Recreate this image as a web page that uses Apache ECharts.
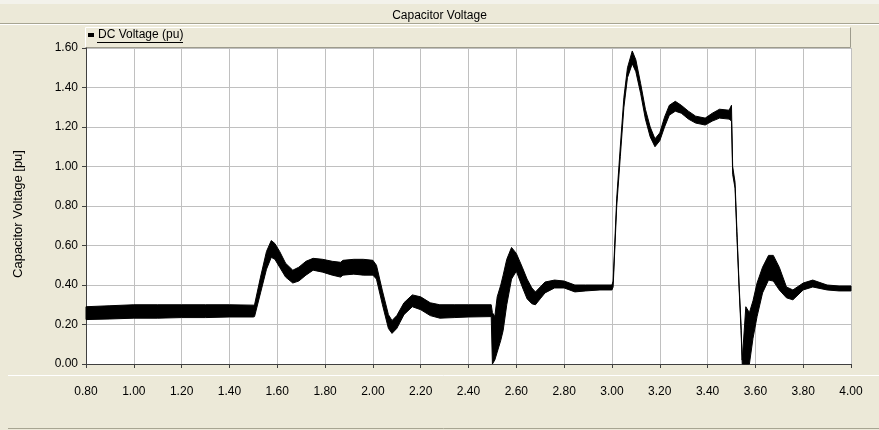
<!DOCTYPE html>
<html><head><meta charset="utf-8">
<script src="https://cdn.jsdelivr.net/npm/echarts@6/dist/echarts.min.js"></script>
<style>html,body{margin:0;padding:0;background:#ECE9D8}#c{width:879px;height:430px}</style>
</head><body><div id="c"></div>
<script>
// ---- data ----
const chartTitle = 'Capacitor Voltage';
const seriesName = 'DC Voltage (pu)';
const yAxisTitle = 'Capacitor Voltage [pu]';
const xMin = 0.8, xMax = 4.0, xStep = 0.2;
const yMin = 0.0, yMax = 1.6, yStep = 0.2;

// time (s)
const time = [0.80,0.90,1.00,1.10,1.20,1.30,1.40,1.50,1.505,1.53,
  1.555,1.575,1.59,1.61,1.635,1.665,1.69,1.72,1.75,1.79,
  1.83,1.865,1.875,1.92,1.96,2.00,2.015,2.04,2.065,2.08,
  2.10,2.13,2.165,2.20,2.24,2.28,2.34,2.40,2.495,2.50,
  2.51,2.52,2.535,2.545,2.56,2.58,2.60,2.625,2.645,2.665,
  2.68,2.70,2.72,2.76,2.80,2.845,2.89,2.95,3.00,3.005,
  3.02,3.035,3.05,3.065,3.085,3.10,3.12,3.14,3.16,3.18,
  3.20,3.22,3.24,3.265,3.29,3.32,3.35,3.39,3.42,3.45,
  3.49,3.50,3.505,3.515,3.523,3.532,3.54,3.545,3.56,3.575,
  3.59,3.607,3.63,3.655,3.675,3.70,3.73,3.757,3.80,3.84,
  3.90,3.95,4.00];
// lower edge of the ripple band (pu)
const lower = [0.225,0.228,0.232,0.232,0.235,0.235,0.238,0.238,0.240,0.360,
  0.480,0.540,0.530,0.490,0.440,0.410,0.420,0.450,0.475,0.465,
  0.450,0.440,0.450,0.455,0.450,0.450,0.430,0.300,0.180,0.155,
  0.180,0.250,0.290,0.275,0.245,0.232,0.235,0.238,0.240,0.000,
  0.020,0.060,0.120,0.170,0.300,0.430,0.470,0.390,0.330,0.305,
  0.300,0.330,0.360,0.385,0.385,0.365,0.370,0.375,0.375,0.390,
  0.800,1.050,1.300,1.450,1.520,1.480,1.370,1.240,1.150,1.100,
  1.130,1.200,1.260,1.280,1.270,1.240,1.220,1.210,1.230,1.245,
  1.240,1.230,0.960,0.890,0.640,0.380,0.170,0.000,0.000,0.000,
  0.130,0.240,0.360,0.425,0.420,0.375,0.335,0.325,0.375,0.390,
  0.375,0.370,0.370];
// upper edge of the ripple band (pu)
const upper = [0.290,0.295,0.300,0.300,0.300,0.300,0.300,0.298,0.300,0.440,
  0.570,0.625,0.610,0.570,0.510,0.475,0.490,0.520,0.535,0.530,
  0.520,0.515,0.525,0.530,0.530,0.525,0.500,0.370,0.250,0.220,
  0.245,0.310,0.350,0.340,0.310,0.300,0.300,0.300,0.300,0.260,
  0.240,0.340,0.400,0.450,0.530,0.590,0.560,0.490,0.430,0.385,
  0.365,0.390,0.415,0.425,0.420,0.400,0.400,0.400,0.400,0.420,
  0.840,1.100,1.350,1.500,1.585,1.540,1.420,1.290,1.200,1.140,
  1.170,1.250,1.310,1.330,1.310,1.280,1.255,1.245,1.270,1.290,
  1.285,1.310,1.000,0.920,0.670,0.400,0.200,0.020,0.290,0.260,
  0.320,0.410,0.490,0.550,0.550,0.490,0.390,0.375,0.410,0.425,
  0.400,0.395,0.395];

// ---- chart ----
const FONT = "'Liberation Sans', Arial, sans-serif";
const bandData = time.map((t, i) => [t, lower[i], upper[i]]);

function renderBand(params, api) {
  if (params.dataIndex !== 0) return null;
  const top = [], bottom = [];
  for (let i = 0; i < time.length; i++) {
    top.push(api.coord([time[i], upper[i]]));
    bottom.push(api.coord([time[i], lower[i]]));
  }
  const points = top.concat(bottom.reverse());
  return {
    type: 'polygon',
    shape: {points: points},
    style: {fill: '#000', stroke: '#000', lineWidth: 1, lineJoin: 'miter'},
    silent: true
  };
}

const chart = echarts.init(document.getElementById('c'), null, {renderer: 'canvas'});
chart.setOption({
  animation: false,
  backgroundColor: '#ECE9D8',
  textStyle: {fontFamily: FONT},
  title: {
    text: chartTitle, left: 'center', top: 5,
    textStyle: {fontFamily: FONT, fontSize: 12, fontWeight: 'normal', color: '#000'}
  },
  legend: {
    data: [{name: seriesName, icon: 'rect'}],
    left: 88, top: 29, padding: 0, itemWidth: 6, itemHeight: 4, itemGap: 4,
    selectedMode: false,
    textStyle: {fontFamily: FONT, fontSize: 12, color: '#000', padding: [0, 0, 0, -1]}
  },
  graphic: [
    {type: 'rect', shape: {x: 0, y: 0, width: 879, height: 4}, style: {fill: '#F3F2EB'}, silent: true},
    {type: 'line', shape: {x1: 0, y1: 23.5, x2: 879, y2: 23.5}, style: {stroke: '#A7A592', lineWidth: 1}, silent: true},
    {type: 'line', shape: {x1: 0, y1: 24.5, x2: 879, y2: 24.5}, style: {stroke: '#FFFFFF', lineWidth: 1}, silent: true},
    {type: 'rect', shape: {x: 85, y: 27, width: 766, height: 21}, style: {fill: '#ECE9D8'}, silent: true},
    {type: 'polyline', shape: {points: [[85.5, 47.5], [85.5, 27.5], [850.5, 27.5]]}, style: {stroke: '#FFFFFF', lineWidth: 1, fill: null}, silent: true},
    {type: 'polyline', shape: {points: [[850.5, 27.5], [850.5, 47.5], [85.5, 47.5]]}, style: {stroke: '#9D9B8C', lineWidth: 1, fill: null}, silent: true},
    {type: 'line', shape: {x1: 97, y1: 42.5, x2: 183, y2: 42.5}, style: {stroke: '#000', lineWidth: 1}, silent: true},
    {type: 'line', shape: {x1: 8, y1: 375.5, x2: 879, y2: 375.5}, style: {stroke: '#FFFFFF', lineWidth: 1}, silent: true},
    {type: 'line', shape: {x1: 8, y1: 428.5, x2: 879, y2: 428.5}, style: {stroke: '#A7A592', lineWidth: 1}, silent: true},
    {type: 'text', x: 18, y: 214, rotation: Math.PI / 2,
      style: {text: yAxisTitle, font: '13px ' + FONT, fill: '#000', align: 'center', verticalAlign: 'middle'}, silent: true}
  ],
  grid: {left: 86, right: 28, top: 48, bottom: 66, show: true, backgroundColor: '#FFFFFF', borderWidth: 0},
  xAxis: {
    type: 'value', min: xMin, max: xMax, interval: xStep, offset: 15,
    axisLine: {show: true, lineStyle: {color: '#404040', width: 1}},
    axisTick: {show: true, length: 4, lineStyle: {color: '#404040'}},
    axisLabel: {margin: 7, color: '#000', fontSize: 12, fontFamily: FONT, formatter: v => v.toFixed(2)},
    splitLine: {show: true, lineStyle: {color: '#C0C0C0', width: 1}}
  },
  yAxis: {
    type: 'value', min: yMin, max: yMax, interval: yStep,
    axisLine: {show: true, lineStyle: {color: '#404040', width: 1}},
    axisTick: {show: true, length: 4, lineStyle: {color: '#404040'}},
    axisLabel: {margin: 8, color: '#000', fontSize: 12, fontFamily: FONT, formatter: v => v.toFixed(2)},
    splitLine: {show: true, lineStyle: {color: '#C0C0C0', width: 1}}
  },
  series: [
    {name: seriesName, type: 'custom', renderItem: renderBand, data: bandData,
      encode: {x: 0, y: [1, 2]}, itemStyle: {color: '#000'}, silent: true, z: 3}
  ]
});
</script>
</body></html>
